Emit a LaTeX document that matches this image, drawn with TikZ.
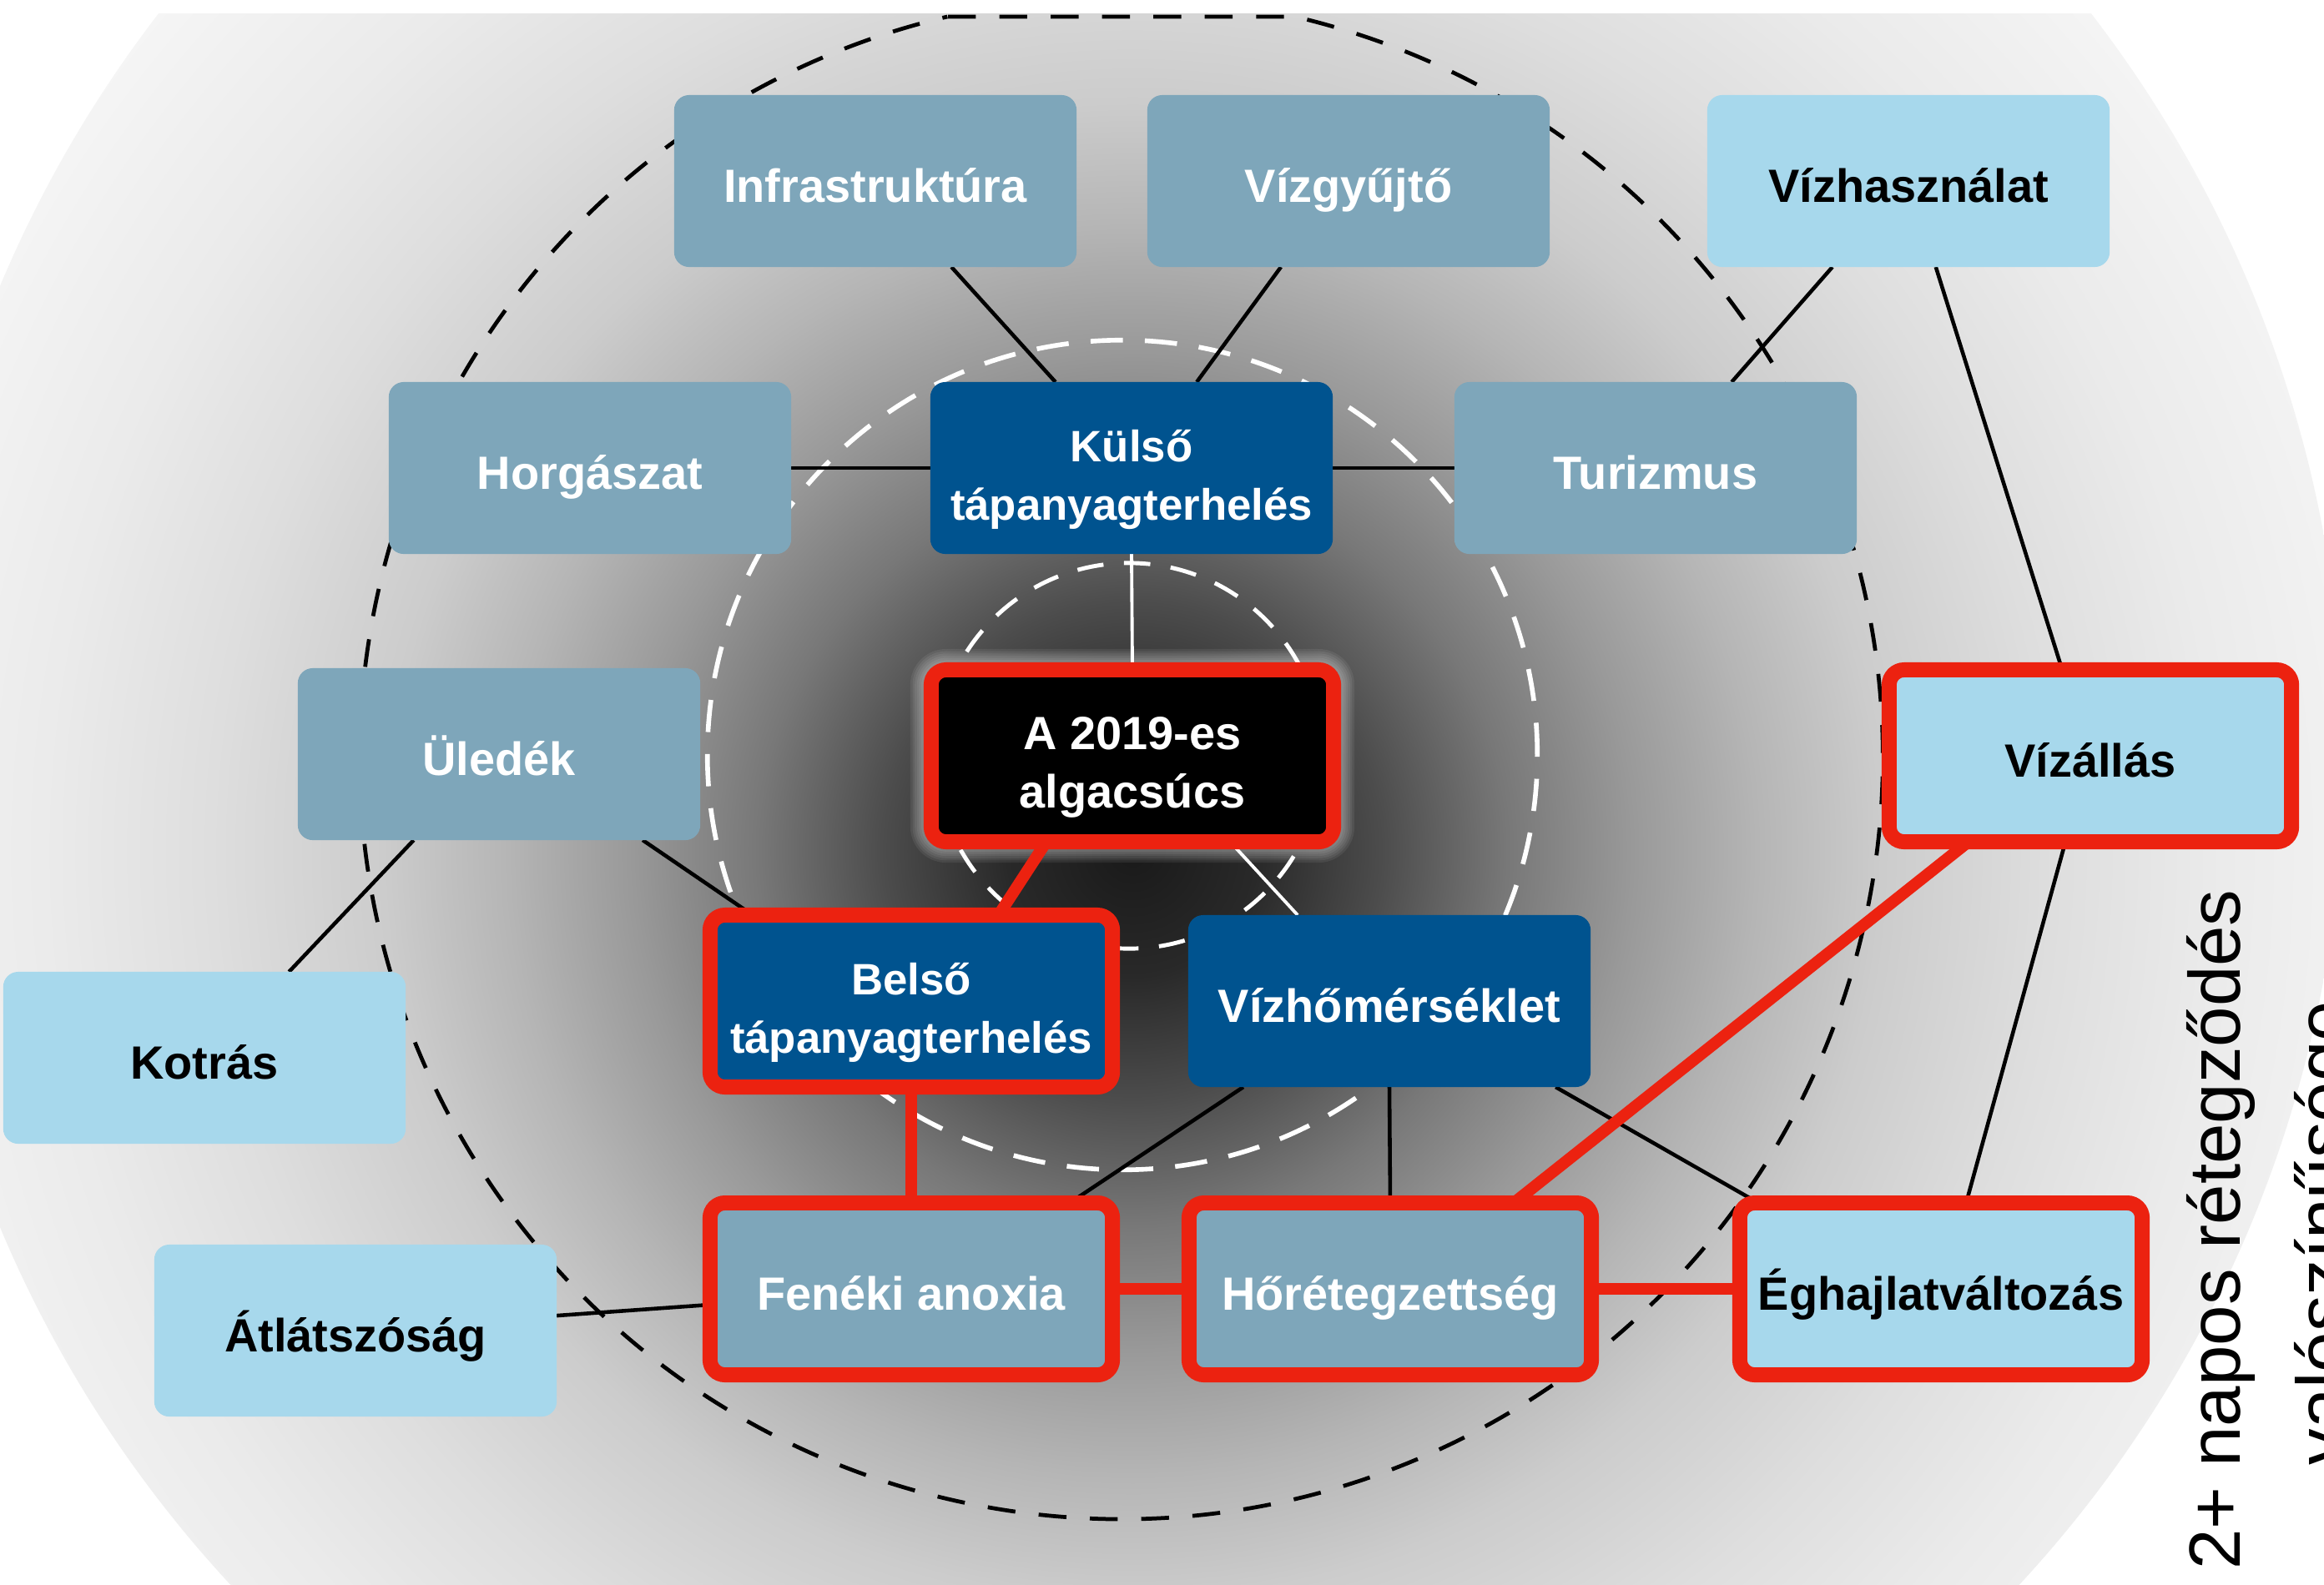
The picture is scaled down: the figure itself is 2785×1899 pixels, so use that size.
\documentclass[tikz,border=0pt]{standalone}
\usepackage{fontspec}
\setmainfont{Liberation Sans}
\usetikzlibrary{calc}
\pgfdeclarelayer{bg}
\pgfdeclarelayer{lines}
\pgfsetlayers{bg,lines,main}
\definecolor{grayblue}{RGB}{126,166,186}
\definecolor{darkblue}{RGB}{0,83,143}
\definecolor{lightblue}{RGB}{167,216,236}
\definecolor{hlred}{RGB}{236,34,16}
\pgfdeclareradialshading{bgshade}{\pgfpointorigin}{%
color(0bp)=(black!90); color(2.2bp)=(black!84); color(4.4bp)=(black!70); color(6.6bp)=(black!53); color(8.8bp)=(black!40); color(11bp)=(black!29); color(13.2bp)=(black!20); color(16.2bp)=(black!13); color(19.1bp)=(black!8); color(23.5bp)=(black!3); color(25bp)=(black!2); color(50bp)=(black!2)}
\newcommand\bxfont{\fontsize{15.9pt}{19.9pt}\selectfont\bfseries}
\newcommand\bxfontb{\fontsize{15pt}{19.9pt}\selectfont\bfseries}
\newcommand\vlfont{\fontsize{24.75pt}{30pt}\selectfont}
\newcommand\tl{\rule{0pt}{19pt}}
\tikzset{
 box/.style={rectangle, rounded corners=5.1pt, minimum width=4.82cm, minimum height=2.06cm, inner sep=0pt, outer sep=0pt, font=\bxfont, align=center},
 onel/.style={text height=14.4pt, text depth=0pt},
 twol/.style={font=\bxfontb},
 gb/.style={box, fill=grayblue, text=white},
 db/.style={box, fill=darkblue, text=white},
 lb/.style={box, fill=lightblue, text=black},
 ctr/.style={box, fill=black, text=white},
 hl/.style={draw=hlred, line width=5.1pt},
 conn/.style={line width=1.3pt, draw=black},
 wconn/.style={line width=1.1pt, draw=white},
 rconn/.style={line width=4pt, draw=hlred},
 bdash/.style={draw=black, line width=1.35pt, dash pattern=on 9.5pt off 8pt},
 wdash/.style={draw=white, line width=1.6pt, dash pattern=on 11pt off 7.5pt},
 vlab/.style={font=\vlfont, text=black, inner sep=0pt, anchor=base, rotate=90},
}
\begin{document}
\begin{tikzpicture}[x=0.01cm, y=-0.01cm]
\useasboundingbox (0,0) rectangle (2785,1899);

% nodes
\node[gb, onel] (infra) at (1049,217) {Infrastruktúra};
\node[gb, onel] (vizgy) at (1616,217) {Vízgyűjtő};
\node[lb, onel] (vizhasz) at (2287,217) {Vízhasználat};
\node[gb, onel] (horg) at (707,561) {Horgászat};
\node[db, twol] (kulso) at (1356,561) {\tl Külső\\tápanyagterhelés};
\node[gb, onel] (turiz) at (1984,561) {Turizmus};
\node[gb, onel] (uledek) at (598,904) {Üledék};
\node[ctr, hl] (alga) at (1357,906) {\tl A 2019-es\\algacsúcs};
\node[lb, onel, hl] (vizall) at (2505,906) {Vízállás};
\node[db, hl, twol] (belso) at (1092,1200) {\tl Belső\\tápanyagterhelés};
\node[db, onel] (vizhom) at (1665,1200) {Vízhőmérséklet};
\node[lb, onel] (kotras) at (245,1268) {Kotrás};
\node[lb, onel] (atlat) at (426,1595) {Átlátszóság};
\node[gb, onel, hl] (fenek) at (1092,1545) {Fenéki anoxia};
\node[gb, onel, hl] (horet) at (1666,1545) {Hőrétegzettség};
\node[lb, onel, hl] (eghaj) at (2326,1545) {Éghajlatváltozás};

\node[vlab] (lab1) at (2684,1474) {2+ napos rétegződés};
\node[vlab] (lab2) at (2813,1478) {valószínűsége};

% background
\begin{pgfonlayer}{bg}
\fill[white] (0,0) rectangle (2785,1899);
\begin{scope}
\clip (0,16) rectangle (2785,1899);
\clip (1348,907) circle[radius=14.6cm];
\shade[shading=bgshade] (1357,1020) circle[radius=17cm];
\end{scope}
\draw[bdash] (1136,20) -- (1552,20) arc[start angle=76.8, end angle=-256.8, radius=9.12cm];
\draw[wdash] (1345,905) circle[radius=4.97cm];
\draw[wdash, line width=1.4pt, dash pattern=on 9pt off 7pt] (1353,906) circle[radius=2.31cm];
\end{pgfonlayer}

% connectors
\begin{pgfonlayer}{lines}
\foreach \d in {1,...,6}{
 \fill[white, opacity=0.07, rounded corners=8pt+\d*0.7pt] ([xshift=-2.6pt-\d*0.75pt, yshift=-2.6pt-\d*0.75pt]alga.south west) rectangle ([xshift=2.6pt+\d*0.75pt, yshift=2.6pt+\d*0.75pt]alga.north east);
}
\draw[conn] ($(infra.south west)!0.689!(infra.south east)$) -- ($(kulso.north west)!0.311!(kulso.north east)$);
\draw[conn] ($(vizgy.south west)!0.332!(vizgy.south east)$) -- ($(kulso.north west)!0.662!(kulso.north east)$);
\draw[conn] (horg.east) -- (kulso.west);
\draw[conn] (kulso.east) -- (turiz.west);
\draw[conn] ($(vizhasz.south west)!0.311!(vizhasz.south east)$) -- ($(turiz.north west)!0.689!(turiz.north east)$);
\draw[conn] ($(vizhasz.south west)!0.568!(vizhasz.south east)$) -- ($(vizall.north west)!0.43!(vizall.north east)$);
\draw[wconn] (kulso.south) -- (alga.north);
\draw[conn] ($(uledek.south west)!0.288!(uledek.south east)$) -- ($(kotras.north west)!0.71!(kotras.north east)$);
\draw[conn] ($(uledek.south west)!0.857!(uledek.south east)$) -- ($(belso.north west)!0.106!(belso.north east)$);
\draw[wconn] ($(alga.south west)!0.743!(alga.south east)$) -- ($(vizhom.north west)!0.272!(vizhom.north east)$);
\draw[rconn] ($(alga.south west)!0.286!(alga.south east)$) -- ($(belso.north west)!0.717!(belso.north east)$);
\draw[rconn] (belso.south) -- (fenek.north);
\draw[conn] ($(vizhom.south west)!0.137!(vizhom.south east)$) -- ($(fenek.north west)!0.894!(fenek.north east)$);
\draw[conn] (vizhom.south) -- (horet.north);
\draw[conn] ($(vizhom.south west)!0.913!(vizhom.south east)$) -- ($(eghaj.north west)!0.046!(eghaj.north east)$);
\draw[conn] ($(vizall.south west)!0.438!(vizall.south east)$) -- ($(eghaj.north west)!0.5625!(eghaj.north east)$);
\draw[rconn] ($(vizall.south west)!0.197!(vizall.south east)$) -- ($(horet.north west)!0.807!(horet.north east)$);
\draw[rconn] (fenek.east) -- (horet.west);
\draw[rconn] (horet.east) -- (eghaj.west);
\draw[conn] ([yshift=5.1pt]atlat.east) -- ([yshift=-5.4pt]fenek.west);
\end{pgfonlayer}
\end{tikzpicture}
\end{document}
